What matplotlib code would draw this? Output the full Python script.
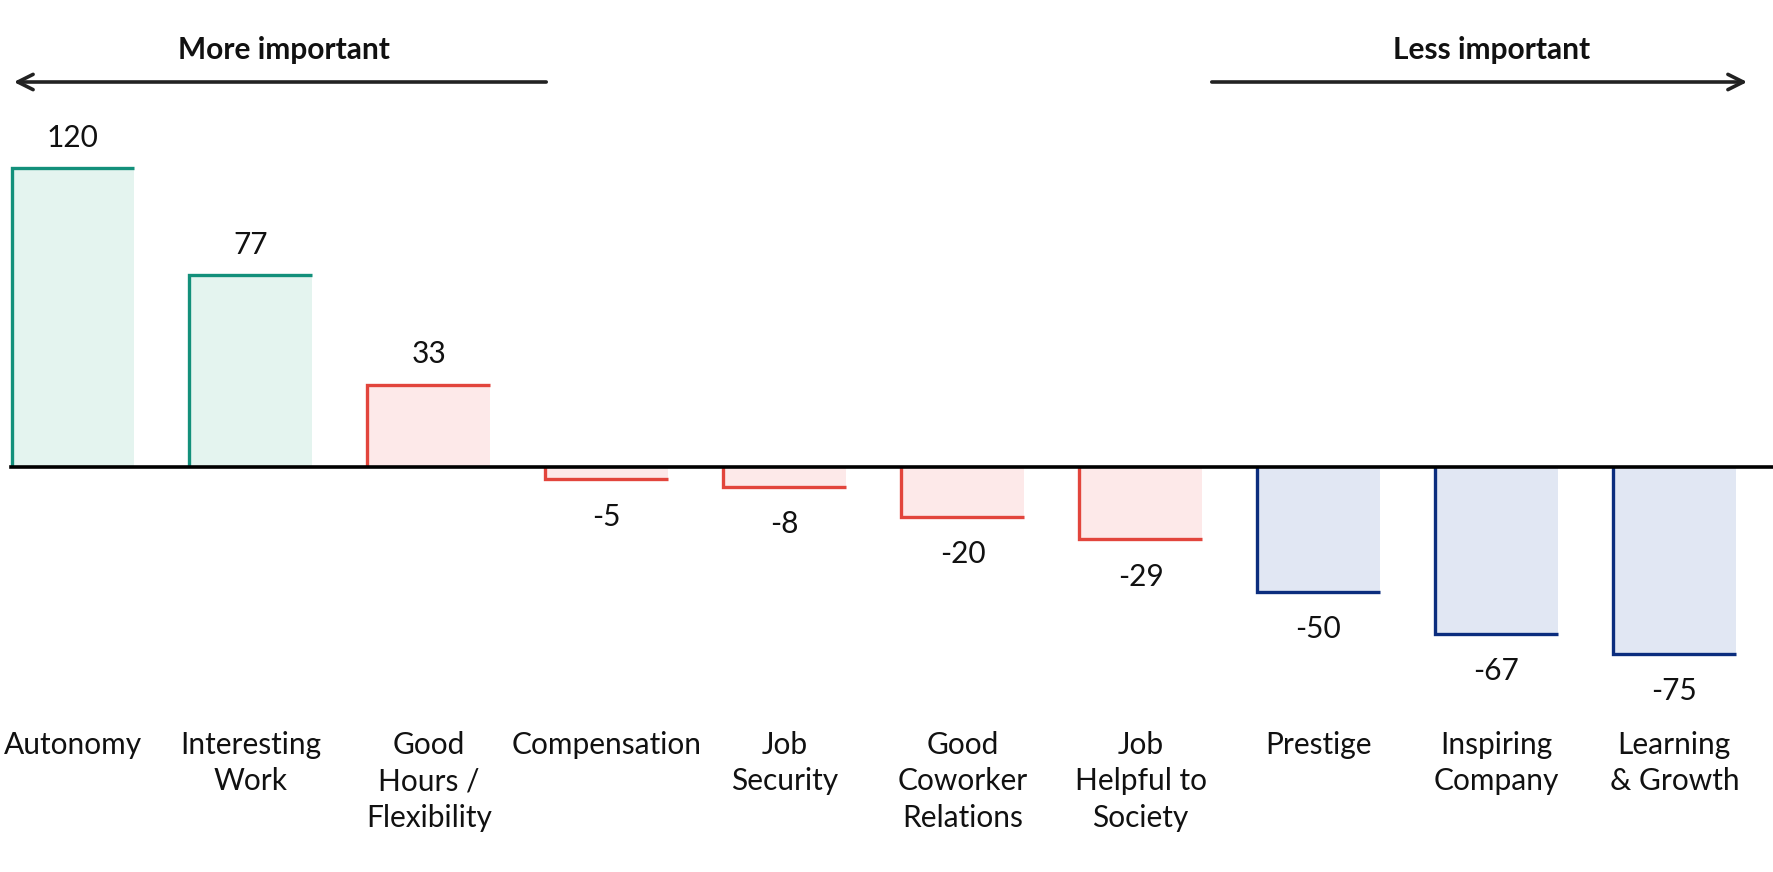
import matplotlib.pyplot as plt

# chart data
categories = ["Autonomy", "Interesting\nWork", "Good\nHours /\nFlexibility", "Compensation",
              "Job\nSecurity", "Good\nCoworker\nRelations", "Job\nHelpful to\nSociety",
              "Prestige", "Inspiring\nCompany", "Learning\n& Growth"]
values = [120, 77, 33, -5, -8, -20, -29, -50, -67, -75]
groups = ["top", "top", "mid", "mid", "mid", "mid", "mid", "low", "low", "low"]

edge_colors = {"top": "#13907b", "mid": "#e2453c", "low": "#0b2d7e"}
fill_colors = {"top": "#e4f4ef", "mid": "#fde9e9", "low": "#e1e7f3"}

plt.rcParams['font.family'] = ['Lato', 'DejaVu Sans']

W, H = 1774, 872
fig = plt.figure(figsize=(W / 100, H / 100), dpi=100)
ax = fig.add_axes([0, 0, 1, 1])
ax.set_xlim(-0.41, 9.56)
ax.set_ylim(-162.6, 187.5)
ax.axis('off')

bw = 0.69
xs = list(range(len(values)))
for x, v, g in zip(xs, values, groups):
    ax.bar(x, v, width=bw, color=fill_colors[g], linewidth=0, zorder=1)
    left = x - bw / 2
    ax.plot([left, left, x + bw / 2], [0, v, v], color=edge_colors[g],
            lw=2.4, solid_capstyle='butt', solid_joinstyle='miter', zorder=2)
    off = 22 if v > 0 else -27
    ax.annotate(str(v), (x, v), xytext=(0, off), textcoords='offset points',
                ha='center', va='center', fontsize=21.5, color='#111111')

# zero line
ax.axhline(0, xmin=11 / W, xmax=1, color='black', lw=2.6, zorder=3)

# category labels
for x, c in zip(xs, categories):
    ax.text(x, 1 - 731 / H, c, transform=ax.get_xaxis_transform(), ha='center', va='top',
            fontsize=21.5, linespacing=1.36, color='#111111')

# importance arrows
head = '->,head_length=1.1,head_width=0.55'
ax.annotate('', xy=(11 / W, 1 - 82 / H), xytext=(549 / W, 1 - 82 / H), xycoords='axes fraction',
            arrowprops=dict(arrowstyle=head, lw=2.6, color='#222222'))
ax.annotate('', xy=(1750 / W, 1 - 82 / H), xytext=(1209 / W, 1 - 82 / H), xycoords='axes fraction',
            arrowprops=dict(arrowstyle=head, lw=2.6, color='#222222'))
ax.text(284 / W, 1 - 50 / H, 'More important', transform=ax.transAxes, ha='center', va='center',
        fontsize=21.5, fontweight='bold', color='#111111')
ax.text(1492 / W, 1 - 50 / H, 'Less important', transform=ax.transAxes, ha='center', va='center',
        fontsize=21.5, fontweight='bold', color='#111111')

fig.savefig('out.png', dpi=100)
